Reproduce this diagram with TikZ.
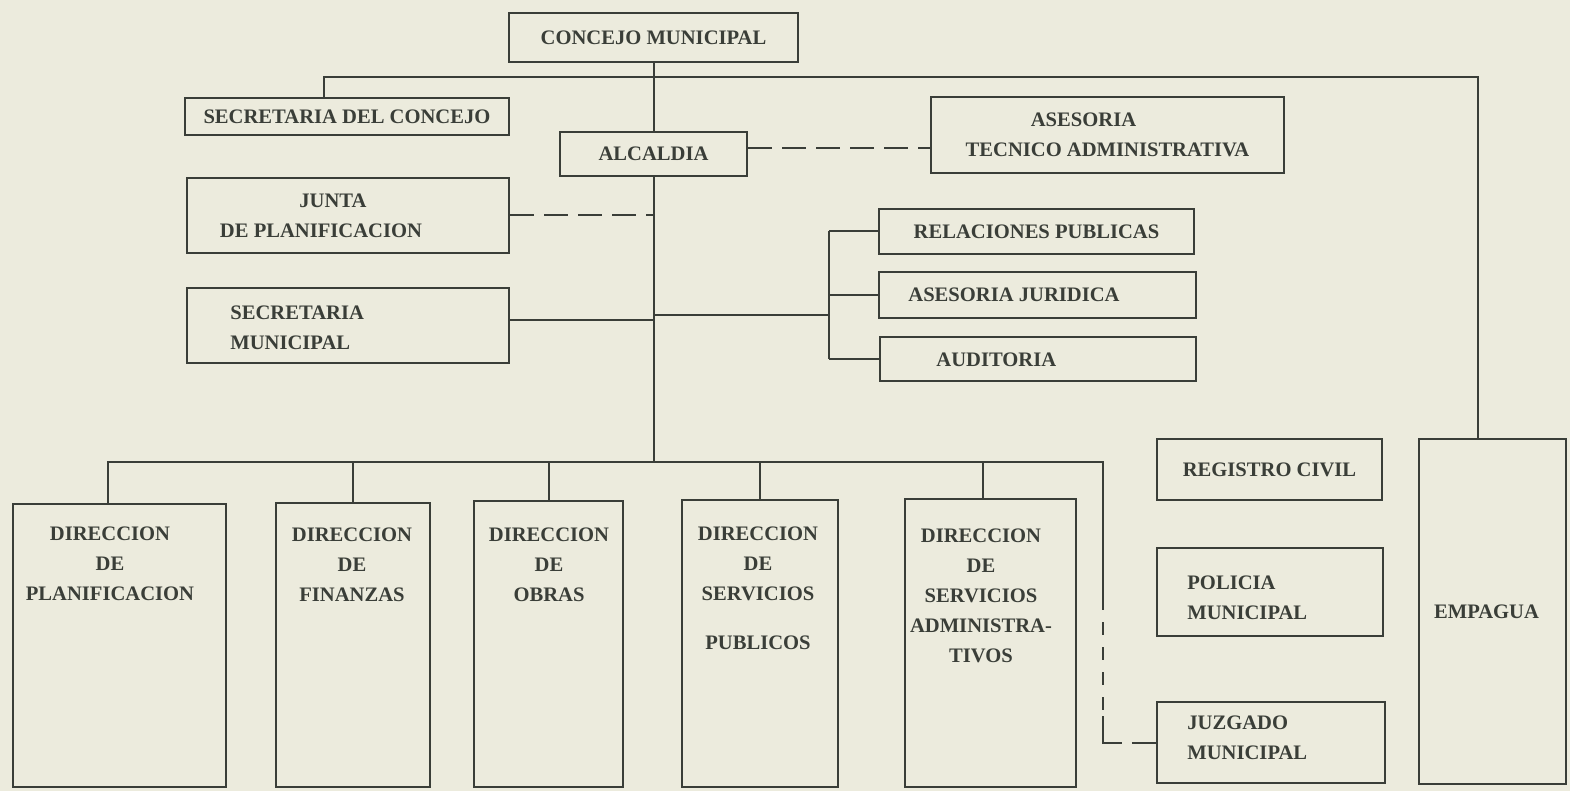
\documentclass[tikz,border=0pt]{standalone}
\usepackage{fontspec}
\setmainfont{Liberation Serif}
\usepackage{tikz}
\usetikzlibrary{positioning,fit,calc}
\definecolor{paper}{RGB}{236,235,221}
\definecolor{ink}{RGB}{58,62,56}
\newcommand{\orgfont}{\bfseries\fontsize{10.3}{15}\selectfont}
\tikzset{
  unit/.style={draw=ink,line width=1.2pt,inner sep=0pt},
  lbl/.style={text=ink,font=\orgfont,inner sep=0pt,align=center},
  ln/.style={draw=ink,line width=1pt},
  dashln/.style={ln,dash pattern=on 12pt off 5pt},
  vdashln/.style={ln,dash pattern=on 6.5pt off 6pt},
}

\begin{document}
\begin{tikzpicture}[x=0.5pt,y=-0.5pt]
  \fill[paper] (0,0) rectangle (1570,791);
  \useasboundingbox (0,0) rectangle (1570,791);

  \node[unit,fit={(509,13) (798,62)}] (concejo) {};
  \node[lbl] (concejotxt) at (concejo.center) {CONCEJO MUNICIPAL};
  \node[unit,fit={(185,98) (509,135)}] (seccon) {};
  \node[lbl] (seccontxt) at (seccon.center) {SECRETARIA DEL CONCEJO};
  \node[unit,fit={(560,132) (747,176)}] (alcaldia) {};
  \node[lbl] (alcaldiatxt) at (alcaldia.center) {ALCALDIA};
  \node[unit,fit={(931,97) (1284,173)}] (asesoria) {};
  \node[lbl] (asesoriatxt) at (asesoria.center)
    {ASESORIA\hspace*{24pt}\\TECNICO ADMINISTRATIVA};
  \node[unit,fit={(187,178) (509,253)}] (junta) {};
  \node[lbl] (juntatxt) at (junta.center)
    {JUNTA\hspace*{15pt}\\DE PLANIFICACION\hspace*{27pt}};
  \node[unit,fit={(187,288) (509,363)}] (secmun) {};
  \node[lbl,anchor=north west,align=left] (secmuntxt) at (230,305)
    {SECRETARIA\\MUNICIPAL};

  \node[unit,fit={(879,209) (1194,254)}] (relpub) {};
  \node[lbl] (relpubtxt) at (relpub.center) {RELACIONES PUBLICAS};
  \node[unit,fit={(879,272) (1196,318)}] (asejur) {};
  \node[lbl,anchor=west] (asejurtxt) at (908,295) {ASESORIA JURIDICA};
  \node[unit,fit={(880,337) (1196,381)}] (audit) {};
  \node[lbl,anchor=west] (audittxt) at (936,360) {AUDITORIA};

  \node[unit,fit={(13,504) (226,787)}] (dplan) {};
  \node[lbl,anchor=north] (dplantxt) at (110,526)
    {DIRECCION\\DE\\PLANIFICACION};
  \node[unit,fit={(276,503) (430,787)}] (dfin) {};
  \node[lbl,anchor=north] (dfintxt) at (352,527)
    {DIRECCION\\DE\\FINANZAS};
  \node[unit,fit={(474,501) (623,787)}] (dobras) {};
  \node[lbl,anchor=north] (dobrastxt) at (549,527)
    {DIRECCION\\DE\\OBRAS};
  \node[unit,fit={(682,500) (838,787)}] (dspub) {};
  \node[lbl,anchor=north] (dspubtxt) at (758,526)
    {DIRECCION\\DE\\SERVICIOS\\[9.5pt]PUBLICOS};
  \node[unit,fit={(905,499) (1076,787)}] (dsadm) {};
  \node[lbl,anchor=north] (dsadmtxt) at (981,528)
    {DIRECCION\\DE\\SERVICIOS\\ADMINISTRA-\\TIVOS};

  \node[unit,fit={(1157,439) (1382,500)}] (regciv) {};
  \node[lbl] (regcivtxt) at (regciv.center) {REGISTRO CIVIL};
  \node[unit,fit={(1157,548) (1383,636)}] (policia) {};
  \node[lbl,anchor=north west,align=left] (policiatxt) at (1187,575)
    {POLICIA\\MUNICIPAL};
  \node[unit,fit={(1157,702) (1385,783)}] (juzgado) {};
  \node[lbl,anchor=north west,align=left] (juzgadotxt) at (1187,715)
    {JUZGADO\\MUNICIPAL};
  \node[unit,fit={(1419,439) (1566,784)}] (empagua) {};
  \node[lbl] (empaguatxt) at ([xshift=-3pt]empagua.center) {EMPAGUA};

  \coordinate (topbus) at (653.5,77);
  \coordinate (bus) at (653.5,462);
  \coordinate (stafftap) at (653.5,315);
  \coordinate (staffbar) at (829,315);
  \coordinate (jzup) at (1103,597);
  \coordinate (jzdown) at (1103,716);
  \coordinate (jzgap) at (1122,742.5);

  \draw[ln] (concejo.south) -- (alcaldia.north);
  \draw[ln] ([xshift=-11.5pt]seccon.north) |- (topbus) -| ([xshift=-7.25pt]empagua.north);
  \draw[ln] (alcaldia.south) -- (bus);
  \draw[dashln] ([yshift=3pt]alcaldia.east) -- ([yshift=3pt]alcaldia.east -| asesoria.west);
  \draw[dashln] (junta.east) -- (junta.east -| bus);
  \draw[ln] ([yshift=2.75pt]secmun.east) -- ([yshift=2.75pt]secmun.east -| bus);

  \draw[ln] (stafftap) -- (staffbar);
  \draw[ln] (relpub.west -| staffbar) -- (audit.west -| staffbar);
  \draw[ln] (relpub.west -| staffbar) -- (relpub.west);
  \draw[ln] (asejur.west -| staffbar) -- (asejur.west);
  \draw[ln] (audit.west -| staffbar) -- (audit.west);

  \draw[ln] ([xshift=-5.75pt]dplan.north) |- (bus);
  \draw[ln] (dfin.north) |- (bus);
  \draw[ln] (dobras.north) |- (bus);
  \draw[ln] (dspub.north) |- (bus);
  \draw[ln] ([xshift=-3.75pt]dsadm.north) |- (bus);
  \draw[ln] (bus) -| (jzup);
  \draw[vdashln] (jzup) -- (jzdown);
  \draw[ln] (jzdown) |- (jzgap);
  \draw[ln] ([xshift=-12pt]juzgado.west) -- (juzgado.west);
\end{tikzpicture}
\end{document}
